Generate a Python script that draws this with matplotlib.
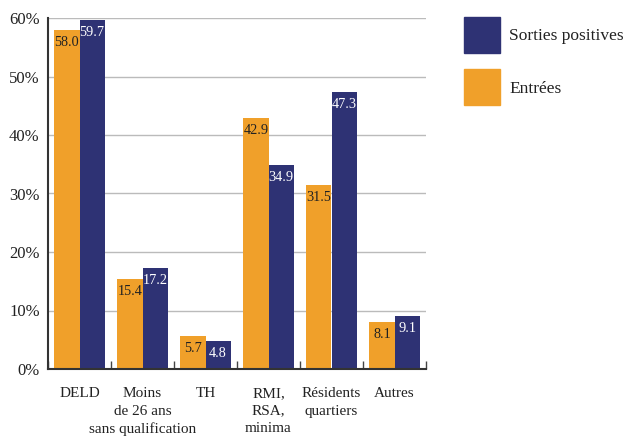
import matplotlib
matplotlib.use("Agg")
import matplotlib.pyplot as plt
import numpy as np
from matplotlib.patches import Rectangle
from matplotlib.ticker import FixedLocator

plt.rcParams['font.family'] = ['Liberation Serif', 'DejaVu Serif']

categories = ["DELD", "Moins\nde 26 ans\nsans qualification", "TH",
              "RMI,\nRSA,\nminima", "Résidents\nquartiers", "Autres"]
entrees = [58.0, 15.4, 5.7, 42.9, 31.5, 8.1]
sorties = [59.7, 17.2, 4.8, 34.9, 47.3, 9.1]
yticks = [0, 10, 20, 30, 40, 50, 60]
ytick_labels = ["0%", "10%", "20%", "30%", "40%", "50%", "60%"]

c_orange = "#F0A02A"
c_navy = "#2E3274"

fig = plt.figure(figsize=(6.23, 4.36), dpi=100)
ax = fig.add_axes([48/623, 1-369/436, (426-48)/623, (369-18)/436])

x = np.arange(len(categories))
w = 0.4
b1 = ax.bar(x - w/2, entrees, w, color=c_orange, zorder=2)
b2 = ax.bar(x + w/2, sorties, w, color=c_navy, zorder=2)

for xi, v in zip(x - w/2, entrees):
    ax.annotate(f"{v:.1f}", (xi, v), xytext=(0, -9), textcoords="offset points",
                ha="center", va="center", fontsize=10.3, color="#222222", zorder=3)
for xi, v in zip(x + w/2, sorties):
    ax.annotate(f"{v:.1f}", (xi, v), xytext=(0, -9), textcoords="offset points",
                ha="center", va="center", fontsize=10.3, color="white", zorder=3)

ax.set_xlim(-0.5, len(categories) - 0.5)
ax.set_ylim(0, 60)
ax.set_yticks(yticks)
ax.set_yticklabels(ytick_labels, fontsize=12, color="#222222")
ax.tick_params(axis="y", length=0, pad=6)
ax.yaxis.grid(True, color="#bbbbbb", linewidth=1, zorder=0)
ax.set_axisbelow(True)

ax.set_xticks(x)
ax.set_xticklabels(categories, fontsize=11, color="#222222", linespacing=1.45)
ax.tick_params(axis="x", which="major", length=0, pad=13)
ax.xaxis.set_minor_locator(FixedLocator(np.arange(-0.5, len(categories), 1.0)))
ax.tick_params(axis="x", which="minor", direction="in", length=6, width=1, color="#444444")

for s in ["top", "right"]:
    ax.spines[s].set_visible(False)
ax.spines["left"].set_linewidth(1.5)
ax.spines["left"].set_color("#333333")
ax.spines["bottom"].set_linewidth(1.5)
ax.spines["bottom"].set_color("#333333")

# legend
fig.add_artist(Rectangle((464/623, 1-53/436), 36/623, 36/436, transform=fig.transFigure,
                         color=c_navy))
fig.add_artist(Rectangle((464/623, 1-105/436), 36/623, 36/436, transform=fig.transFigure,
                         color=c_orange))
fig.text(509/623, 1-36/436, "Sorties positives", fontsize=12.5, va="center", ha="left", color="#222222")
fig.text(509/623, 1-89/436, "Entrées", fontsize=12.5, va="center", ha="left", color="#222222")

fig.savefig("out.png", dpi=100)
